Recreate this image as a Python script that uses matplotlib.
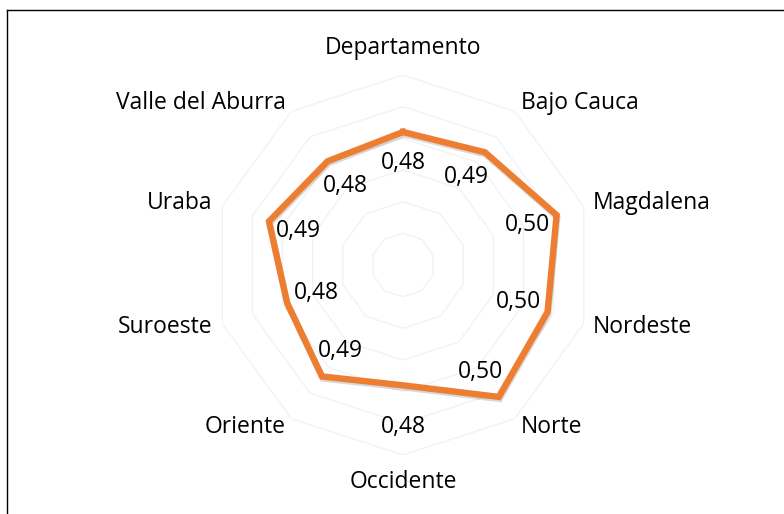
import matplotlib
matplotlib.use("Agg")
import matplotlib.pyplot as plt
import matplotlib.patheffects as pe
from matplotlib.lines import Line2D
import numpy as np

# data
categories = ["Departamento", "Bajo Cauca", "Magdalena", "Nordeste", "Norte",
              "Occidente", "Oriente", "Suroeste", "Uraba", "Valle del Aburra"]
values = [0.484, 0.488, 0.502, 0.496, 0.503, 0.476, 0.487, 0.477, 0.489, 0.481]
ring_values = [0.42, 0.44, 0.46, 0.48, 0.50, 0.52]

plt.rcParams['font.family'] = ['Open Sans', 'DejaVu Sans']
FS = 16.5

fig = plt.figure(figsize=(7.84, 5.14), dpi=100)
fig.patch.set_facecolor('white')

# polar axes: center ~(403, 265) px, outer ring radius ~190 px
W, H = 784, 514
cx, cy, R = 403, 265, 190
ax = fig.add_axes([(cx - R) / W, (H - cy - R) / H, 2 * R / W, 2 * R / H],
                  projection='polar')
ax.set_theta_zero_location('N')
ax.set_theta_direction(-1)
ax.set_ylim(0.40, 0.52)
ax.set_xticks([])
ax.set_yticks([])
ax.grid(False)
ax.spines['polar'].set_visible(False)
ax.patch.set_alpha(0)

n = len(categories)
angles = np.linspace(0, 2 * np.pi, n, endpoint=False)
closed = np.append(angles, angles[0])

# faint decagon gridlines
for rv in ring_values:
    ax.plot(closed, [rv] * (n + 1), color='#f1f1f1', lw=0.9, zorder=1)

vals_closed = values + values[:1]
ax.plot(closed, vals_closed, color='#ED7D31', lw=4.6, solid_joinstyle='miter',
        zorder=3,
        path_effects=[pe.SimpleLineShadow(offset=(0.5, -1.5), shadow_color='black', alpha=0.15),
                      pe.Normal()])

# data labels
for a, v in zip(angles, values):
    txt = f"{v:.2f}".replace('.', ',')
    if abs(a - np.pi) < 1e-6:
        dx, dy = 0, -42
    else:
        dx, dy = -31 * np.sin(a), -31 * np.cos(a)
    ax.annotate(txt, xy=(a, v), xytext=(dx, dy), textcoords='offset pixels',
                ha='center', va='center', fontsize=FS, color='black', zorder=4)

# category labels
for a, cat in zip(angles, categories):
    s = np.sin(a)
    if abs(s) < 1e-6:
        ax.text(a, 0.537, cat, ha='center', va='center', fontsize=FS,
                clip_on=False)
    else:
        ax.text(a, 0.5263, cat, ha='left' if s > 0 else 'right', va='center',
                fontsize=FS, clip_on=False)

# chart frame (only left and top edges visible in the crop)
fig.add_artist(Line2D([7 / W, 7 / W], [0, 1 - 10 / H], color='black', lw=1,
                      transform=fig.transFigure))
fig.add_artist(Line2D([7 / W, 1], [1 - 10 / H, 1 - 10 / H], color='black', lw=1,
                      transform=fig.transFigure))

fig.savefig('out.png', dpi=100)
